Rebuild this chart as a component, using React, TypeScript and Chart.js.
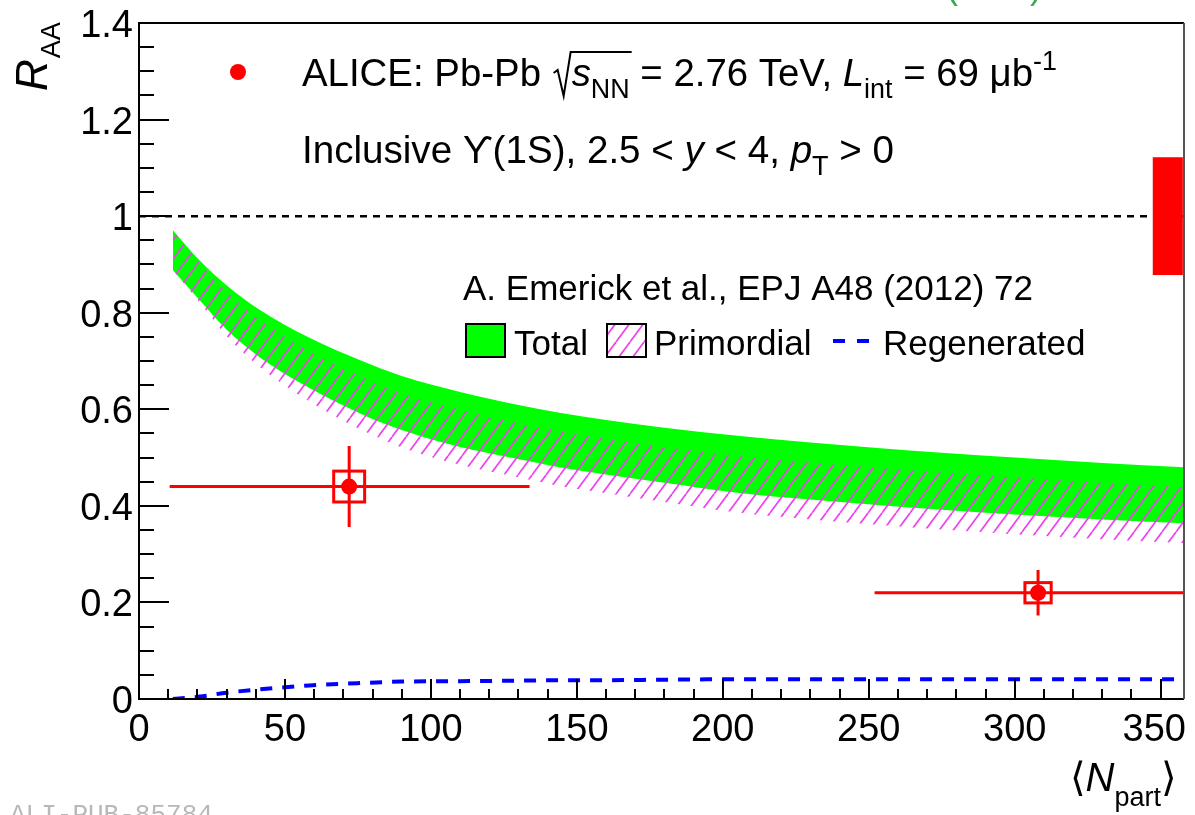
import React, { useEffect, useRef } from 'react';
import { Chart, registerables } from 'chart.js';

Chart.register(...registerables);

// ---------- data ----------
const X_MIN = 0;
const X_MAX = 358;
const Y_MIN = 0;
const Y_MAX = 1.4;

const modelX = [11.6, 20.8, 30, 41.3, 58.4, 75.6, 90, 110, 130, 144, 160, 180, 205, 230, 253, 275, 300, 330, 358];
const totalUpper = [0.971, 0.908, 0.857, 0.806, 0.748, 0.702, 0.669, 0.636, 0.609, 0.593, 0.578, 0.562, 0.545, 0.531, 0.520, 0.510, 0.500, 0.489, 0.480];
const totalLower = [0.888, 0.826, 0.765, 0.708, 0.644, 0.592, 0.557, 0.522, 0.497, 0.480, 0.465, 0.448, 0.427, 0.413, 0.402, 0.392, 0.382, 0.372, 0.364];
const primordialUpper = [0.971, 0.903, 0.844, 0.786, 0.720, 0.669, 0.633, 0.599, 0.571, 0.554, 0.539, 0.522, 0.504, 0.490, 0.479, 0.469, 0.459, 0.448, 0.439];
const primordialLower = [0.888, 0.821, 0.752, 0.688, 0.616, 0.559, 0.521, 0.485, 0.459, 0.441, 0.426, 0.408, 0.386, 0.372, 0.361, 0.351, 0.341, 0.331, 0.323];
const regenerated = [0.000, 0.005, 0.013, 0.020, 0.028, 0.033, 0.036, 0.037, 0.038, 0.039, 0.039, 0.040, 0.041, 0.041, 0.041, 0.041, 0.041, 0.041, 0.041];

const dataX = [72, 308];
const dataY = [0.44, 0.22];
const xErrLow = [10.5, 252];
const xErrHigh = [133.8, 358];
const statErr = [0.084, 0.047];
const systErr = [0.032, 0.021];
const systHalfWidth = [5.3, 4.5];

const globalUncX = [347.3, 357.6];
const globalUncY = [0.878, 1.122];

const refLineX = [0, 358];
const refLineY = [1, 1];

const xTickValues = [0, 50, 100, 150, 200, 250, 300, 350];
const xTickLabels = ['0', '50', '100', '150', '200', '250', '300', '350'];
const yTickValues = [0, 0.2, 0.4, 0.6, 0.8, 1.0, 1.2, 1.4];
const yTickLabels = ['0', '0.2', '0.4', '0.6', '0.8', '1', '1.2', '1.4'];

// ---------- helpers ----------
const FAM = '"Liberation Sans", Arial, Helvetica, "DejaVu Sans", sans-serif';
const font = (size: number, italic = false) => `${italic ? 'italic ' : ''}${size}px ${FAM}`;

type Seg = { t: string; it?: boolean; sub?: boolean; sup?: boolean };

function drawRich(ctx: CanvasRenderingContext2D, x: number, y: number, segs: Seg[], size: number): number {
  let cx = x;
  for (const s of segs) {
    const sz = s.sub || s.sup ? size * 0.7 : size;
    const dy = s.sub ? size * 0.3 : s.sup ? -size * 0.42 : 0;
    ctx.font = font(sz, s.it);
    ctx.fillText(s.t, cx, y + dy);
    cx += ctx.measureText(s.t).width;
  }
  return cx;
}

function makeHatch(): CanvasPattern | string {
  const c = document.createElement('canvas');
  const w = 14;
  const h = 19;
  c.width = w;
  c.height = h;
  const g = c.getContext('2d');
  if (!g) return '#ee44ee';
  g.strokeStyle = '#ee44ee';
  g.lineWidth = 1.7;
  for (const k of [-1, 0, 1]) {
    g.beginPath();
    g.moveTo(k * w, h);
    g.lineTo(k * w + w, 0);
    g.stroke();
  }
  const p = g.createPattern(c, 'repeat');
  return p || '#ee44ee';
}

export default function App() {
  const ref = useRef<HTMLCanvasElement>(null);

  useEffect(() => {
    document.body.style.margin = '0';
    const canvas = ref.current;
    if (!canvas) return;
    const hatch = makeHatch();

    const pts = (ys: number[]) => modelX.map((x, i) => ({ x, y: ys[i] }));

    const overlay = {
      id: 'overlay',
      beforeDraw(chart: any) {
        const c = chart.ctx as CanvasRenderingContext2D;
        c.save();
        c.fillStyle = '#ffffff';
        c.fillRect(0, 0, chart.width, chart.height);
        c.restore();
      },
      afterDatasetsDraw(chart: any) {
        const c = chart.ctx as CanvasRenderingContext2D;
        const xs = chart.scales.x;
        const ys = chart.scales.y;
        const a = chart.chartArea;
        c.save();
        c.beginPath();
        c.rect(a.left, a.top, a.right - a.left, a.bottom - a.top);
        c.clip();
        // global uncertainty box
        c.fillStyle = '#ff0000';
        const gx0 = xs.getPixelForValue(globalUncX[0]);
        const gx1 = xs.getPixelForValue(globalUncX[1]);
        const gy0 = ys.getPixelForValue(globalUncY[1]);
        const gy1 = ys.getPixelForValue(globalUncY[0]);
        c.fillRect(gx0, gy0, gx1 - gx0, gy1 - gy0);
        // error bars and syst boxes
        c.strokeStyle = '#ff0000';
        c.lineWidth = 3;
        for (let i = 0; i < dataX.length; i++) {
          const px = xs.getPixelForValue(dataX[i]);
          const py = ys.getPixelForValue(dataY[i]);
          c.beginPath();
          c.moveTo(xs.getPixelForValue(xErrLow[i]), py);
          c.lineTo(xs.getPixelForValue(xErrHigh[i]), py);
          c.moveTo(px, ys.getPixelForValue(dataY[i] + statErr[i]));
          c.lineTo(px, ys.getPixelForValue(dataY[i] - statErr[i]));
          c.stroke();
          const bx0 = xs.getPixelForValue(dataX[i] - systHalfWidth[i]);
          const bx1 = xs.getPixelForValue(dataX[i] + systHalfWidth[i]);
          const by0 = ys.getPixelForValue(dataY[i] + systErr[i]);
          const by1 = ys.getPixelForValue(dataY[i] - systErr[i]);
          c.strokeRect(bx0, by0, bx1 - bx0, by1 - by0);
        }
        c.restore();
      },
      afterDraw(chart: any) {
        const c = chart.ctx as CanvasRenderingContext2D;
        const xs = chart.scales.x;
        const ys = chart.scales.y;
        const a = chart.chartArea;
        c.save();
        // frame
        c.lineWidth = 2;
        c.strokeStyle = '#000000';
        c.beginPath();
        c.moveTo(a.right, a.top);
        c.lineTo(a.left, a.top);
        c.lineTo(a.left, a.bottom);
        c.lineTo(a.right, a.bottom);
        c.stroke();
        c.strokeStyle = '#555555';
        c.beginPath();
        c.moveTo(a.right, a.top);
        c.lineTo(a.right, a.bottom);
        c.stroke();
        // y ticks
        c.strokeStyle = '#000000';
        c.lineWidth = 2;
        c.beginPath();
        for (let k = 0; k <= 28; k++) {
          const v = k * 0.05;
          const py = Math.round(ys.getPixelForValue(v));
          const len = k % 4 === 0 ? 30 : 15;
          c.moveTo(a.left, py);
          c.lineTo(a.left + len, py);
        }
        // x ticks
        for (let k = 0; k <= 35; k++) {
          const v = k * 10;
          const px = Math.round(xs.getPixelForValue(v));
          const len = k % 5 === 0 ? 20 : 10;
          c.moveTo(px, a.bottom);
          c.lineTo(px, a.bottom - len);
        }
        c.stroke();

        // tick labels
        c.fillStyle = '#000000';
        c.font = font(38);
        c.textAlign = 'right';
        c.textBaseline = 'alphabetic';
        yTickValues.forEach((v, i) => {
          c.fillText(yTickLabels[i], 133, ys.getPixelForValue(v) + 14);
        });
        c.textAlign = 'center';
        xTickValues.forEach((v, i) => {
          const w = c.measureText(xTickLabels[i]).width;
          let px = xs.getPixelForValue(v);
          px = Math.min(px, 1186 - w / 2);
          c.fillText(xTickLabels[i], px, 741);
        });
        c.textAlign = 'left';

        // y title R_AA
        c.save();
        c.translate(47, 91);
        c.rotate(-Math.PI / 2);
        c.font = font(44, true);
        c.fillText('R', 0, 0);
        const rw = c.measureText('R').width;
        c.font = font(27);
        c.fillText('AA', rw + 1, 13);
        c.restore();

        // x title <N_part>
        c.font = font(40);
        const x0 = 1070;
        c.fillText('⟨', x0, 791);
        let cx = x0 + c.measureText('⟨').width;
        c.font = font(40, true);
        c.fillText('N', cx, 791);
        cx += c.measureText('N').width;
        c.font = font(27);
        c.fillText('part', cx, 806);
        cx += c.measureText('part').width;
        c.font = font(40);
        c.fillText('⟩', cx, 791);

        // ALICE legend marker
        c.fillStyle = '#ff0000';
        c.beginPath();
        c.arc(238, 72, 8, 0, Math.PI * 2);
        c.fill();

        // line 1 with sqrt
        c.fillStyle = '#000000';
        const y1 = 86;
        let lx = drawRich(c, 302, y1, [{ t: 'ALICE: Pb-Pb ' }], 38.4);
        const sq0 = lx + 2;
        c.strokeStyle = '#000000';
        c.lineWidth = 2;
        c.beginPath();
        c.moveTo(sq0, y1 - 13);
        c.lineTo(sq0 + 4, y1 - 16);
        c.lineTo(sq0 + 10, y1 + 10);
        c.lineTo(sq0 + 17, y1 - 34);
        lx = drawRich(c, sq0 + 18, y1, [{ t: 's', it: true }, { t: 'NN', sub: true }], 38.4);
        c.lineTo(lx + 2, y1 - 34);
        c.stroke();
        drawRich(c, lx, y1, [
          { t: ' = 2.76 TeV, ' },
          { t: 'L', it: true },
          { t: 'int', sub: true },
          { t: ' = 69 μb' },
          { t: '-1', sup: true },
        ], 38.4);

        // line 2
        drawRich(c, 302, 163, [
          { t: 'Inclusive ' },
          { t: 'ϒ' },
          { t: '(1S), 2.5 < ' },
          { t: 'y', it: true },
          { t: ' < 4, ' },
          { t: 'p', it: true },
          { t: 'T', sub: true },
          { t: ' > 0' },
        ], 38.6);

        // model reference
        c.font = font(35);
        c.fillText('A. Emerick et al., EPJ A48 (2012) 72', 463, 300);

        // legend row
        c.fillStyle = '#00ff00';
        c.fillRect(466, 324, 39, 33);
        c.strokeStyle = '#000000';
        c.lineWidth = 2;
        c.strokeRect(466, 324, 39, 33);
        c.fillStyle = '#000000';
        c.font = font(35);
        c.fillText('Total', 514, 355);
        c.fillStyle = '#ffffff';
        c.fillRect(607, 324, 39, 33);
        c.fillStyle = hatch as any;
        c.fillRect(607, 324, 39, 33);
        c.strokeRect(607, 324, 39, 33);
        c.fillStyle = '#000000';
        c.fillText('Primordial', 654, 355);
        c.strokeStyle = '#0000ff';
        c.lineWidth = 4;
        c.beginPath();
        c.moveTo(833, 341);
        c.lineTo(845, 341);
        c.moveTo(857, 341);
        c.lineTo(869, 341);
        c.stroke();
        c.fillText('Regenerated', 883, 355);

        // cut-off green label at top
        c.fillStyle = '#33aa55';
        c.font = font(36);
        c.fillText('(', 946, -2);
        c.fillText(')', 1030, -2);

        // bottom-left id
        c.fillStyle = '#b8b8b8';
        c.font = '26px "Liberation Mono", "DejaVu Sans Mono", monospace';
        c.fillText('ALI-PUB-85784', 10, 822);
        c.restore();
      },
    };

    const chart = new Chart(canvas, {
      type: 'line',
      data: {
        datasets: [
          {
            label: 'Total',
            data: pts(totalUpper),
            fill: '+1',
            backgroundColor: '#00ff00',
            borderColor: 'rgba(0,0,0,0)',
            borderWidth: 0,
            pointRadius: 0,
            cubicInterpolationMode: 'monotone',
            order: 5,
          },
          {
            label: 'Total low',
            data: pts(totalLower),
            fill: false,
            borderColor: 'rgba(0,0,0,0)',
            borderWidth: 0,
            pointRadius: 0,
            cubicInterpolationMode: 'monotone',
            order: 5,
          },
          {
            label: 'Primordial',
            data: pts(primordialUpper),
            fill: '+1',
            backgroundColor: hatch as any,
            borderColor: 'rgba(0,0,0,0)',
            borderWidth: 0,
            pointRadius: 0,
            cubicInterpolationMode: 'monotone',
            order: 4,
          },
          {
            label: 'Primordial low',
            data: pts(primordialLower),
            fill: false,
            borderColor: 'rgba(0,0,0,0)',
            borderWidth: 0,
            pointRadius: 0,
            cubicInterpolationMode: 'monotone',
            order: 4,
          },
          {
            label: 'Regenerated',
            data: pts(regenerated),
            fill: false,
            borderColor: '#0000ff',
            borderWidth: 4,
            borderDash: [12, 10],
            pointRadius: 0,
            cubicInterpolationMode: 'monotone',
            order: 3,
          },
          {
            label: 'Unity',
            data: refLineX.map((x, i) => ({ x, y: refLineY[i] })),
            fill: false,
            borderColor: '#000000',
            borderWidth: 2.5,
            borderDash: [7, 6],
            pointRadius: 0,
            order: 2,
          },
          {
            type: 'scatter',
            label: 'ALICE',
            data: dataX.map((x, i) => ({ x, y: dataY[i] })),
            showLine: false,
            pointRadius: 8,
            pointBackgroundColor: '#ff0000',
            pointBorderColor: '#ff0000',
            pointBorderWidth: 0,
            order: 1,
          } as any,
        ],
      },
      options: {
        responsive: false,
        animation: false,
        devicePixelRatio: 1,
        layout: { padding: { left: 139, top: 23, right: 11, bottom: 116 } },
        plugins: {
          legend: { display: false },
          tooltip: { enabled: false },
          title: { display: false },
        },
        scales: {
          x: { type: 'linear', min: X_MIN, max: X_MAX, display: false },
          y: { type: 'linear', min: Y_MIN, max: Y_MAX, display: false },
        },
      },
      plugins: [overlay],
    });

    return () => chart.destroy();
  }, []);

  return (
    <div style={{ width: 1195, height: 815, position: 'relative', overflow: 'hidden' }}>
      <canvas ref={ref} width={1195} height={815} style={{ display: 'block', width: 1195, height: 815 }} />
    </div>
  );
}
